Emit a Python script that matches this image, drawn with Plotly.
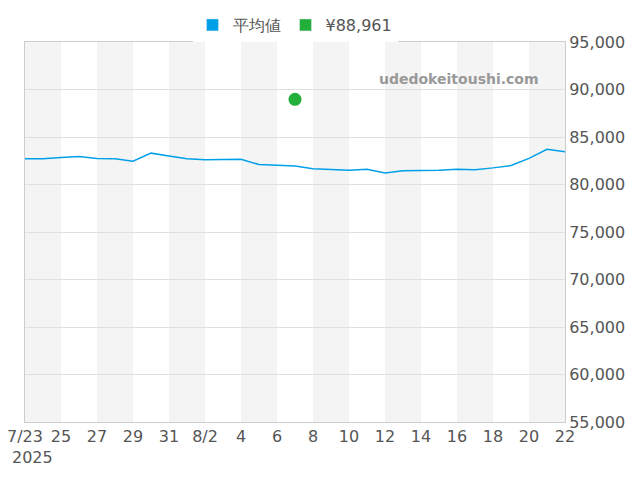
import plotly.graph_objects as go
import pandas as pd

dates = pd.date_range("2025-07-23", "2025-08-22", freq="D")
avg_price = [82700, 82700, 82850, 82950, 82750, 82700, 82450, 83300, 83000, 82700,
             82600, 82600, 82650, 82100, 82050, 81950, 81650, 81600, 81500, 81600,
             81200, 81450, 81450, 81500, 81600, 81550, 81750, 82000, 82750, 83700, 83450]
point_date = ["2025-08-07"]
point_price = [88961]

line_color = "#00a0e9"
dot_color = "#22b03a"

fig = go.Figure()

# alternating gray bands, two days wide
for i in range(0, 30, 4):
    fig.add_vrect(x0=dates[i], x1=dates[i + 2], fillcolor="#f2f2f2", opacity=0.85,
                  line_width=0, layer="below")

fig.add_trace(go.Scatter(x=dates, y=avg_price, mode="lines", name="平均値",
                         line=dict(color=line_color, width=1.5), showlegend=False))
fig.add_trace(go.Scatter(x=point_date, y=point_price, mode="markers", name="¥88,961",
                         marker=dict(color=dot_color, size=13), showlegend=False))
# rectangular legend swatches
fig.add_trace(go.Bar(x=[None], y=[None], name="平均値", marker_color=line_color))
fig.add_trace(go.Bar(x=[None], y=[None], name="¥88,961", marker_color=dot_color))

tickvals = dates[::2]
ticktext = [""] + [f"{d.day}" if d.day != 2 else "8/2" for d in tickvals[1:]]

fig.update_layout(
    width=640, height=480,
    margin=dict(l=17, r=83, t=24, b=66),
    plot_bgcolor="white", paper_bgcolor="white",
    font=dict(family="DejaVu Sans", size=16, color="#555"),
    legend=dict(orientation="h", x=0.5, xanchor="center", y=1.0, yanchor="top",
                yref="container", font=dict(size=16)),
    xaxis=dict(range=[dates[0], dates[-1]], tickvals=tickvals, ticktext=ticktext,
               showgrid=False, showline=True, linecolor="#ccc", mirror=True, ticks="",
               automargin=False),
    yaxis=dict(range=[55000, 95000], dtick=5000, side="right", tickformat=",",
               gridcolor="#e0e0e0", showline=True, linecolor="#ccc", mirror=True,
               automargin=False),
    annotations=[
        dict(text="<b>udedokeitoushi.com</b>", xref="paper", yref="paper",
             x=0.955, y=0.93, xanchor="right", showarrow=False,
             font=dict(size=14, color="#999", family="DejaVu Sans")),
        dict(text="7/23", xref="x", yref="paper", x=dates[0], y=0, yanchor="top",
             yshift=-3, showarrow=False, font=dict(size=16, color="#555")),
        dict(text="2025", xref="paper", yref="paper", x=0, y=0, xanchor="left",
             yanchor="top", xshift=-15, yshift=-24, showarrow=False,
             font=dict(size=16, color="#555")),
    ],
)

fig.write_html("out.html")
